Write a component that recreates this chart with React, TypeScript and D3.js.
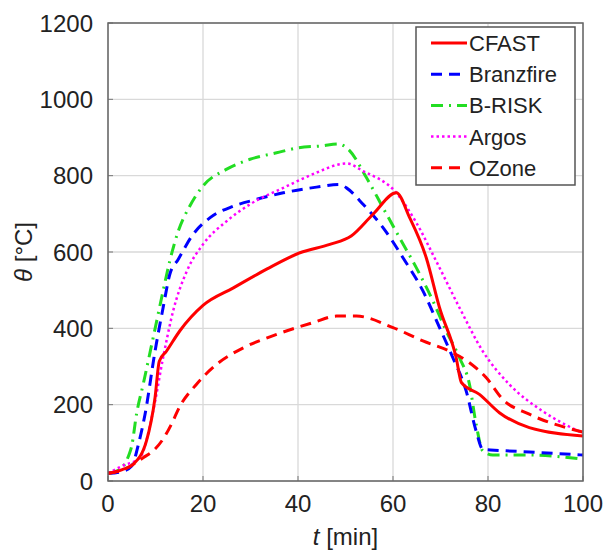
import React from "react";
import * as d3 from "d3";

const xTicks = [0, 20, 40, 60, 80, 100];
const yTicks = [0, 200, 400, 600, 800, 1000, 1200];

const cfastT = [0, 3, 5.3, 8.1, 9.9, 10.8, 12.3, 15.1, 20, 26.4, 33.4, 40.4, 46.7, 51.2, 55.8, 60.7, 63.5, 67, 69.8, 73.3, 74.4, 78.2, 82.4, 88.7, 100];
const cfastV = [20, 30, 44, 105, 218, 314, 340, 393, 460, 506, 555, 598, 620, 642, 699, 755, 690, 585, 454, 323, 258, 227, 179, 140, 118];

const branzT = [0, 3, 5, 6.4, 7.8, 9.9, 11.6, 13, 14.8, 17.9, 21.5, 26.4, 31.3, 36.9, 43.9, 48.8, 50.2, 53.7, 57.9, 62.1, 66.3, 69.8, 72.6, 75.4, 77.5, 78.9, 82.4, 88.7, 100];
const branzV = [20, 25, 39, 96, 175, 340, 454, 541, 581, 646, 690, 720, 738, 755, 770, 777, 768, 725, 664, 585, 498, 402, 323, 236, 131, 83, 80, 76, 68];

const briskT = [0, 2.5, 4.3, 5, 6, 7.4, 9.5, 11.6, 13, 14.8, 17.2, 20, 25, 29.9, 35.5, 40, 45, 48.5, 50.9, 54.4, 57.9, 61.4, 64.9, 68.4, 71.2, 74, 76.1, 77.5, 78.9, 81, 88.7, 100];
const briskV = [20, 30, 65, 92, 175, 253, 375, 498, 576, 655, 720, 773, 817, 843, 860, 873, 878, 883, 865, 795, 716, 637, 559, 472, 393, 323, 253, 149, 79, 68, 68, 57];

const argosT = [0, 2.9, 6.7, 9.5, 11.6, 13.7, 16.6, 20, 25, 29.9, 36.9, 43.9, 48.8, 50.2, 53.7, 60.7, 64.9, 69.1, 74, 78.9, 84.5, 91.5, 100];
const argosV = [20, 39, 61, 183, 323, 445, 550, 620, 681, 725, 768, 808, 830, 832, 812, 755, 677, 576, 454, 340, 253, 183, 125];

const ozoneT = [0, 3, 7.4, 9.5, 11.6, 13.4, 15.1, 18.6, 22.9, 28.5, 35.5, 43.2, 48.1, 52.3, 60, 66.3, 71.9, 76.1, 79.6, 83.1, 88.7, 100];
const ozoneV = [20, 28, 61, 79, 110, 150, 195, 253, 306, 349, 384, 415, 432, 432, 402, 367, 340, 310, 271, 214, 175, 128];

const seriesNames = ["CFAST", "Branzfire", "B-RISK", "Argos", "OZone"];

const W = 608, H = 550;
const L = 108, T = 23, R = 583, B = 481;

export default function App() {
  const x = d3.scaleLinear().domain([0, 100]).range([L, R]);
  const y = d3.scaleLinear().domain([0, 1200]).range([B, T]);
  const line = d3.line<[number, number]>().x(d => x(d[0])).y(d => y(d[1])).curve(d3.curveMonotoneX);
  const mk = (t: number[], v: number[]) => line(t.map((tt, i) => [tt, v[i]] as [number, number])) || "";

  const styles: Record<string, { color: string; dash?: string; width: number }> = {
    "CFAST": { color: "#ff0000", width: 3 },
    "Branzfire": { color: "#0000ff", dash: "11 7", width: 3 },
    "B-RISK": { color: "#22dd22", dash: "12 6 2 6", width: 3 },
    "Argos": { color: "#ff00ff", dash: "2.5 3", width: 2.5 },
    "OZone": { color: "#ff0000", dash: "11 7", width: 3 },
  };
  const paths: Record<string, string> = {
    "CFAST": mk(cfastT, cfastV),
    "Branzfire": mk(branzT, branzV),
    "B-RISK": mk(briskT, briskV),
    "Argos": mk(argosT, argosV),
    "OZone": mk(ozoneT, ozoneV),
  };
  const drawOrder = ["B-RISK", "Branzfire", "Argos", "OZone", "CFAST"];
  const font = "Liberation Sans, Arial, sans-serif";

  const legX = 416, legY = 27, legW = 159, legH = 158;
  const rowY = (i: number) => 43 + i * 31.2;

  return (
    <svg width={W} height={H} style={{ position: "absolute", left: 0, top: 0, background: "#fff" }}>
      <defs>
        <clipPath id="plotclip">
          <rect x={L} y={T} width={R - L} height={B - T} />
        </clipPath>
      </defs>
      {xTicks.map(t => (
        <line key={"gx" + t} x1={x(t)} x2={x(t)} y1={T} y2={B} stroke="#d9d9d9" strokeWidth={1.3} />
      ))}
      {yTicks.map(t => (
        <line key={"gy" + t} x1={L} x2={R} y1={y(t)} y2={y(t)} stroke="#d9d9d9" strokeWidth={1.3} />
      ))}
      {xTicks.map(t => (
        <line key={"tx" + t} x1={x(t)} x2={x(t)} y1={B} y2={B - 5} stroke="#777" strokeWidth={1} />
      ))}
      {yTicks.map(t => (
        <line key={"ty" + t} x1={L} x2={L + 5} y1={y(t)} y2={y(t)} stroke="#777" strokeWidth={1} />
      ))}
      <g clipPath="url(#plotclip)">
        {drawOrder.map(n => (
          <path key={n} d={paths[n]} fill="none" stroke={styles[n].color} strokeWidth={styles[n].width}
            strokeDasharray={styles[n].dash} strokeLinejoin="round" />
        ))}
      </g>
      <rect x={L} y={T} width={R - L} height={B - T} fill="none" stroke="#666" strokeWidth={1.5} />
      {xTicks.map(t => (
        <text key={"lx" + t} x={x(t)} y={512} textAnchor="middle" fontFamily={font} fontSize={24} fill="#222">{t}</text>
      ))}
      {yTicks.map(t => (
        <text key={"ly" + t} x={93} y={y(t) + 8.5} textAnchor="end" fontFamily={font} fontSize={24} fill="#222">{t}</text>
      ))}
      <text x={(L + R) / 2} y={545} textAnchor="middle" fontFamily={font} fontSize={24} fill="#222">
        <tspan fontStyle="italic">t</tspan> [min]
      </text>
      <text transform={`translate(32, ${(T + B) / 2}) rotate(-90)`} textAnchor="middle" fontFamily={font} fontSize={24} fill="#222">
        <tspan fontStyle="italic">θ</tspan> [°C]
      </text>
      <rect x={legX} y={legY} width={legW} height={legH} fill="#fff" stroke="#555" strokeWidth={1.5} />
      {seriesNames.map((n, i) => (
        <g key={"lg" + n}>
          <line x1={431} x2={467} y1={rowY(i)} y2={rowY(i)} stroke={styles[n].color} strokeWidth={styles[n].width}
            strokeDasharray={styles[n].dash} />
          <text x={469} y={rowY(i) + 8} fontFamily={font} fontSize={22} fill="#222">{n}</text>
        </g>
      ))}
    </svg>
  );
}
